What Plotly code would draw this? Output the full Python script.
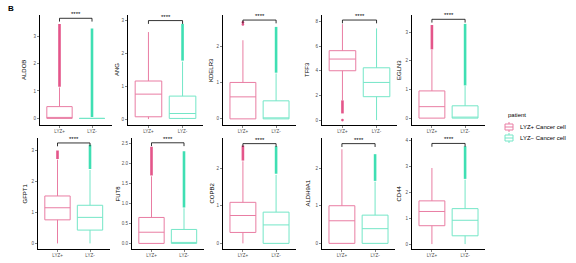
import plotly.graph_objects as go

W, H = 576, 263

genes = ["ALDOB", "ANG", "KDELR3", "TFF3", "EGLN3",
         "GFPT1", "FUT8", "COPB2", "ALDH9A1", "CD44"]
groups = ["LYZ+", "LYZ-"]
legend_labels = ["LYZ+ Cancer cell", "LYZ\u2212 Cancer cell"]

# box statistics, LYZ+ group
pos_q1  = [0.00, 0.07, 0.00, 4.01, 0.00, 0.76, 0.00, 0.29, 0.00, 0.71]
pos_med = [0.02, 0.76, 0.61, 4.96, 0.40, 1.15, 0.28, 0.74, 0.60, 1.26]
pos_q3  = [0.43, 1.16, 1.01, 5.64, 0.95, 1.53, 0.65, 1.09, 1.00, 1.67]
pos_lo  = [0.00, 0.00, 0.00, 1.60, 0.00, 0.00, 0.00, 0.00, 0.00, 0.00]
pos_hi  = [1.13, 2.65, 2.18, 7.80, 2.39, 2.70, 1.68, 2.18, 2.50, 2.94]
# box statistics, LYZ- group
neg_q1  = [0.00, 0.02, 0.00, 1.90, 0.00, 0.43, 0.00, 0.00, 0.00, 0.32]
neg_med = [0.00, 0.17, 0.00, 3.06, 0.00, 0.84, 0.00, 0.49, 0.39, 0.92]
neg_q3  = [0.00, 0.70, 0.50, 4.25, 0.43, 1.23, 0.35, 0.83, 0.75, 1.37]
neg_lo  = [0.00, 0.00, 0.00, 0.00, 0.00, 0.00, 0.00, 0.00, 0.00, 0.00]
neg_hi  = [0.00, 1.75, 1.26, 7.45, 1.12, 2.37, 0.88, 1.82, 1.64, 2.49]

# dense outlier ranges (low, high); None = no outliers
pos_out = [(1.15, 3.44), (None, None), (None, None), (0.54, 1.60), (2.40, 3.25),
           (2.72, 3.00), (1.70, 2.42), (2.20, 2.60), (None, None), (None, None)]
neg_out = [(0.05, 3.28), (1.78, 2.90), (1.28, 2.55), (None, None), (1.14, 3.29),
           (2.40, 3.18), (0.90, 2.31), (1.85, 2.58), (1.66, 2.37), (2.52, 3.78)]
# isolated outlier points
pos_pts = [[], [], [2.62, 2.68], [0.0], [], [], [], [], [], []]
neg_pts = [[], [], [], [], [], [], [], [], [], []]

# y-axis ranges, ticks and significance bracket heights
y_min = [-0.24, -0.18, -0.17, -0.40, -0.24, -0.18, -0.14, -0.15, -0.15, -0.19]
y_max = [3.77, 3.17, 2.88, 8.54, 3.60, 3.40, 2.64, 2.80, 2.80, 4.10]
y_ticks = [[0, 1, 2, 3], [0, 1, 2, 3], [0, 1, 2], [0, 2, 4, 6, 8], [0, 1, 2, 3],
           [0, 1, 2, 3], [0.0, 0.5, 1.0, 1.5, 2.0, 2.5], [0, 1, 2], [0, 1, 2], [0, 1, 2, 3, 4]]
y_ticktext = [["0", "1", "2", "3"], ["0", "1", "2", "3"], ["0", "1", "2"],
              ["0", "2", "4", "6", "8"], ["0", "1", "2", "3"], ["0", "1", "2", "3"],
              ["0.0", "0.5", "1.0", "1.5", "2.0", "2.5"], ["0", "1", "2"], ["0", "1", "2"],
              ["0", "1", "2", "3", "4"]]
bracket_y = [3.65, 3.00, 2.74, 8.13, 3.45, 3.24, 2.52, 2.65, 2.65, 3.89]
sig_text = ["****"] * 10

# layout (pixels)
x_dom_px = [(40, 111.5), (128, 203), (223, 296), (322, 397), (412, 485),
            (38, 109.5), (132, 203.5), (223, 296), (322, 395), (412, 485)]
y_dom_px = [(15, 125)] * 5 + [(138, 249)] * 5
title_x_px = [24, 117, 211, 307, 399, 24, 117, 211, 307, 398]

PINK_LINE, PINK_PT = "#E97DA3", "#E4558A"
GREEN_LINE, GREEN_PT = "#74E6C7", "#3FDFB3"
FONT = "Liberation Sans, Arial, sans-serif"

fig = go.Figure()
layout = dict(width=W, height=H, margin=dict(l=0, r=0, t=0, b=0),
              paper_bgcolor="white", plot_bgcolor="white", showlegend=False,
              font=dict(family=FONT, color="black"))
annotations, shapes = [], []

for i, g in enumerate(genes):
    k = "" if i == 0 else str(i + 1)
    xa, ya = "x" + k, "y" + k
    # outliers first (behind boxes)
    for xpos, (lo, hi), pts, col in [(0, pos_out[i], pos_pts[i], PINK_PT),
                                      (1, neg_out[i], neg_pts[i], GREEN_PT)]:
        if lo is not None:
            fig.add_trace(go.Scatter(x=[xpos, xpos], y=[lo, hi], mode="lines",
                                     line=dict(color=col, width=2.6), xaxis=xa, yaxis=ya,
                                     hoverinfo="skip"))
        if pts:
            fig.add_trace(go.Scatter(x=[xpos] * len(pts), y=pts, mode="markers",
                                     marker=dict(color=col, size=2.6), xaxis=xa, yaxis=ya,
                                     hoverinfo="skip"))
    for xpos, stats, col, name in [
        (0, (pos_q1[i], pos_med[i], pos_q3[i], pos_lo[i], pos_hi[i]), PINK_LINE, legend_labels[0]),
        (1, (neg_q1[i], neg_med[i], neg_q3[i], neg_lo[i], neg_hi[i]), GREEN_LINE, legend_labels[1])]:
        q1, med, q3, lo, hi = stats
        fig.add_trace(go.Box(x=[xpos], q1=[q1], median=[med], q3=[q3],
                             lowerfence=[lo], upperfence=[hi], width=0.78,
                             boxpoints=False, whiskerwidth=0,
                             line=dict(color=col, width=1), fillcolor="rgba(255,255,255,1)",
                             name=name, xaxis=xa, yaxis=ya))
    # significance bracket
    d = 0.03 * (y_max[i] - y_min[i])
    b = bracket_y[i]
    fig.add_trace(go.Scatter(x=[0, 0, 1, 1], y=[b - d, b, b, b - d], mode="lines",
                             line=dict(color="black", width=0.8), xaxis=xa, yaxis=ya,
                             hoverinfo="skip", cliponaxis=False))
    annotations.append(dict(x=0.5, y=b, xref=xa, yref=ya, text=sig_text[i], showarrow=False,
                            yanchor="bottom", yshift=-1, font=dict(size=6, color="black")))
    # gene label
    annotations.append(dict(x=title_x_px[i] / W, y=0.5, xref="paper", yref=ya + " domain",
                            text=g, textangle=-90, showarrow=False,
                            xanchor="center", yanchor="middle",
                            font=dict(size=6, color="black")))
    x0, x1 = x_dom_px[i]
    yt, yb = y_dom_px[i]
    layout["xaxis" + k] = dict(domain=[x0 / W, x1 / W], range=[-0.6, 1.6], anchor=ya,
                               tickvals=[0, 1], ticktext=groups, showline=True,
                               linecolor="black", linewidth=1, ticks="outside", ticklen=2,
                               tickcolor="#333333", tickwidth=0.6,
                               tickfont=dict(size=4.5, color="#4d4d4d"),
                               showgrid=False, zeroline=False, fixedrange=True)
    layout["yaxis" + k] = dict(domain=[1 - yb / H, 1 - yt / H], range=[y_min[i], y_max[i]],
                               anchor=xa, tickvals=y_ticks[i], ticktext=y_ticktext[i],
                               showline=True, linecolor="black", linewidth=1,
                               ticks="outside", ticklen=2, tickcolor="#333333", tickwidth=0.6,
                               tickfont=dict(size=4.5, color="#4d4d4d"),
                               showgrid=False, zeroline=False, fixedrange=True)

# panel tag
annotations.append(dict(x=10.5 / W, y=1 - 8.5 / H, xref="paper", yref="paper", text="<b>B</b>",
                        showarrow=False, xanchor="center", yanchor="middle",
                        font=dict(size=8, color="black")))

# manual legend
annotations.append(dict(x=506 / W, y=1 - 115 / H, xref="paper", yref="paper", text="patient",
                        showarrow=False, xanchor="left", yanchor="middle",
                        font=dict(size=6, color="black")))
for j, (lab, col) in enumerate(zip(legend_labels, [PINK_LINE, GREEN_LINE])):
    cy = 127 + 11 * j
    shapes.append(dict(type="rect", xref="paper", yref="paper",
                       x0=505 / W, x1=513 / W, y0=1 - (cy + 3) / H, y1=1 - (cy - 3) / H,
                       line=dict(color=col, width=1), fillcolor="white"))
    shapes.append(dict(type="line", xref="paper", yref="paper",
                       x0=505 / W, x1=513 / W, y0=1 - cy / H, y1=1 - cy / H,
                       line=dict(color=col, width=1)))
    shapes.append(dict(type="line", xref="paper", yref="paper",
                       x0=509 / W, x1=509 / W, y0=1 - (cy - 3) / H, y1=1 - (cy - 5) / H,
                       line=dict(color=col, width=1)))
    shapes.append(dict(type="line", xref="paper", yref="paper",
                       x0=509 / W, x1=509 / W, y0=1 - (cy + 3) / H, y1=1 - (cy + 5) / H,
                       line=dict(color=col, width=1)))
    annotations.append(dict(x=518 / W, y=1 - cy / H, xref="paper", yref="paper", text=lab,
                            showarrow=False, xanchor="left", yanchor="middle",
                            font=dict(size=6, color="black")))

layout["annotations"] = annotations
layout["shapes"] = shapes
fig.update_layout(**layout)
fig.write_html("out.html", config={"displayModeBar": False, "staticPlot": True},
               post_script="document.body.style.margin='0px';document.body.style.overflow='hidden';")
